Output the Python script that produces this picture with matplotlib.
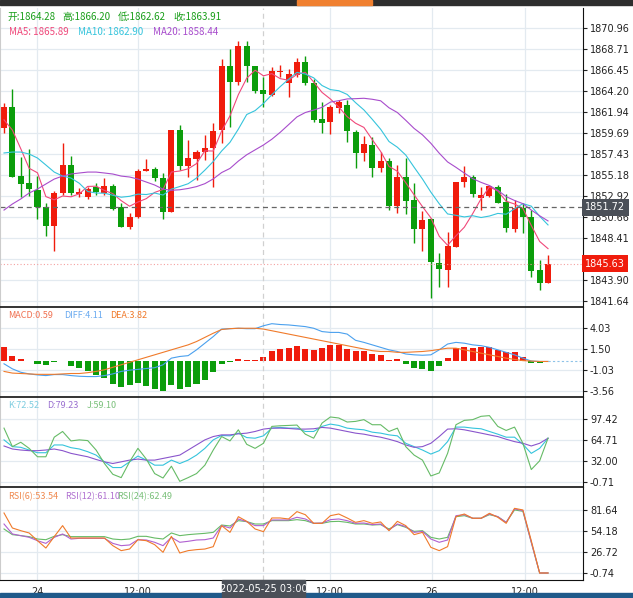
import matplotlib
matplotlib.use("Agg")
import matplotlib.pyplot as plt
import numpy as np
import pandas as pd

opens = [1860.22,1862.48,1855.06,1854.31,1853.56,1851.74,1849.70,1853.24,1856.25,1853.13,1852.81,1853.88,1853.24,1853.99,1851.74,1849.59,1850.66,1855.60,1855.82,1854.85,1851.20,1860.01,1856.14,1856.89,1857.64,1858.07,1860.01,1866.88,1865.16,1869.03,1866.88,1864.30,1863.76,1866.23,1865.05,1865.91,1867.31,1865.05,1861.19,1860.86,1862.37,1862.69,1859.79,1857.54,1858.39,1855.92,1856.68,1851.84,1854.96,1852.49,1849.37,1850.45,1845.72,1844.97,1847.44,1854.42,1854.96,1852.70,1852.92,1853.88,1852.27,1849.37,1851.63,1850.66,1844.97,1843.57]
highs = [1862.91,1864.41,1857.11,1857.96,1855.06,1852.17,1853.45,1858.61,1857.21,1853.78,1853.88,1854.31,1854.85,1854.21,1852.17,1851.09,1855.82,1856.89,1856.03,1855.39,1860.01,1860.54,1858.93,1857.86,1859.47,1860.76,1867.63,1868.70,1869.56,1869.56,1866.88,1865.70,1866.77,1866.99,1866.56,1867.74,1867.95,1865.48,1863.01,1862.69,1863.23,1863.23,1860.01,1859.36,1859.25,1857.64,1857.00,1856.25,1857.00,1854.31,1851.31,1850.55,1846.80,1849.05,1854.42,1856.14,1855.17,1853.88,1854.10,1854.10,1853.13,1852.49,1852.17,1851.41,1846.04,1846.58]
lows = [1859.68,1854.96,1852.81,1852.92,1850.45,1848.62,1847.01,1853.03,1853.03,1852.81,1852.60,1853.03,1853.03,1851.41,1849.59,1849.37,1850.55,1855.60,1854.53,1850.45,1851.20,1855.71,1854.96,1854.63,1856.78,1853.88,1858.61,1860.33,1864.84,1865.16,1863.98,1862.48,1863.66,1865.70,1863.55,1865.70,1864.84,1860.86,1859.68,1859.58,1861.83,1858.72,1855.92,1856.68,1854.96,1855.49,1851.41,1851.09,1850.98,1847.87,1847.01,1841.96,1843.14,1843.14,1847.44,1853.88,1852.81,1851.41,1852.81,1852.17,1849.05,1849.05,1848.94,1844.22,1842.82,1843.57]
closes = [1862.48,1854.96,1854.21,1853.67,1851.74,1849.70,1853.24,1856.25,1853.24,1853.35,1853.67,1853.35,1853.99,1851.52,1849.59,1850.66,1855.60,1855.82,1854.85,1851.20,1860.01,1856.14,1857.00,1857.64,1858.07,1859.90,1866.88,1865.16,1869.03,1866.88,1864.19,1863.87,1866.34,1866.34,1866.02,1867.31,1865.05,1861.08,1860.76,1862.48,1863.01,1859.90,1857.54,1858.50,1855.92,1856.68,1851.84,1854.96,1852.38,1849.37,1850.34,1845.83,1845.08,1847.55,1854.42,1854.96,1853.13,1853.03,1853.99,1852.17,1849.48,1851.63,1850.66,1844.86,1843.57,1845.62]

# moving averages: leading values (before window is full)
ma5_head = [1861.1, 1860.0, 1858.0, 1855.9]
ma10_head = [1857.54,1857.64,1857.64,1857.43,1857.00,1856.25,1855.49,1855.06,1854.85]
ma20_head = [1851.41,1852.06,1852.60,1853.24,1853.67,1854.21,1854.74,1855.06,1855.28,1855.39,1855.49,1855.49,1855.39,1855.28,1855.06,1854.96,1854.74,1854.42,1854.10]

macd_hist = [1.74,0.61,0.28,0.0,-0.36,-0.40,-0.05,0.03,-0.57,-0.81,-1.09,-1.62,-2.03,-2.71,-3.04,-2.84,-2.59,-3.00,-3.32,-3.52,-2.84,-3.32,-3.12,-2.71,-2.23,-1.30,-0.28,-0.12,0.28,0.16,0.16,0.57,1.22,1.46,1.66,1.82,1.54,1.38,1.66,1.98,2.03,1.50,1.30,1.26,0.89,0.77,0.16,0.28,-0.36,-0.81,-0.93,-1.17,-0.57,0.45,1.58,1.70,1.62,1.74,1.70,1.42,1.17,1.13,0.53,-0.24,-0.24,0.0]
macd_diff = [-0.28,-0.89,-1.30,-1.50,-1.62,-1.70,-1.58,-1.58,-1.70,-1.78,-1.82,-1.82,-1.70,-1.50,-1.20,-1.05,-0.95,-0.85,-0.75,-0.40,0.40,0.60,0.70,1.40,2.20,3.00,3.90,3.95,4.00,3.95,3.95,4.30,4.55,4.45,4.40,4.30,4.20,4.00,3.60,3.50,3.50,3.30,2.55,2.30,2.00,1.70,1.40,1.20,0.90,0.80,0.75,0.80,1.40,2.10,2.30,2.20,2.00,1.90,1.70,1.40,1.10,0.80,0.40,0.05,0.0,0.0]
macd_dea = [-1.20,-1.40,-1.45,-1.50,-1.55,-1.55,-1.55,-1.50,-1.45,-1.45,-1.35,-1.20,-1.00,-0.70,-0.40,-0.10,0.20,0.50,0.80,1.10,1.40,1.70,2.00,2.40,2.90,3.40,3.85,3.95,4.00,4.00,4.00,3.90,3.70,3.50,3.30,3.10,2.90,2.70,2.50,2.30,2.10,1.90,1.70,1.50,1.30,1.20,1.20,1.10,1.10,1.15,1.20,1.30,1.45,1.60,1.60,1.40,1.20,1.00,0.80,0.60,0.40,0.25,0.10,0.05,0.0,0.0]

kdj_k = [64.9,54.4,53.3,49.1,44.9,44.9,57.0,57.0,52.8,50.7,46.5,41.2,30.7,21.8,21.8,30.7,39.7,33.4,25.5,25.5,33.4,28.1,33.4,41.2,51.7,64.9,71.7,71.2,75.4,68.5,67.5,71.2,83.2,84.3,83.2,83.2,78.0,78.0,85.9,89.5,87.4,83.2,81.7,80.6,76.9,75.4,72.7,71.2,59.6,54.4,49.1,42.8,48.1,62.2,84.8,84.8,83.2,82.2,78.0,73.8,69.1,69.1,58.0,43.9,51.7,67.5]
kdj_d = [55.4,50.7,49.1,48.1,48.1,49.1,50.7,48.1,43.9,41.2,38.6,34.4,30.7,28.1,30.7,33.4,35.0,33.4,33.4,36.0,38.6,41.2,49.1,57.0,64.9,70.1,72.7,72.7,74.3,75.4,78.0,81.7,83.2,83.2,82.7,81.7,81.7,82.2,84.3,83.2,80.6,78.0,75.4,73.8,71.2,69.1,65.9,62.2,57.0,53.3,54.4,59.6,70.1,81.7,82.2,80.6,78.0,75.4,72.7,70.1,65.9,62.2,59.6,55.4,59.6,67.5]
kdj_j = [83.2,54.4,61.2,51.7,38.6,38.6,69.1,78.0,63.3,64.9,63.8,49.1,28.1,11.3,6.1,30.7,51.7,35.0,12.4,5.5,23.9,0.3,6.1,12.4,25.5,49.1,70.1,63.3,80.6,58.0,51.7,59.6,85.9,86.9,87.4,88.0,73.8,67.5,91.1,100.6,99.0,92.7,93.7,96.4,88.5,88.5,78.0,83.2,54.4,41.2,33.4,8.7,13.4,43.9,88.5,95.3,96.4,101.6,102.7,85.9,79.6,84.8,59.6,18.7,32.3,67.5]

rsi6 = [77.7,58.1,54.6,51.6,41.5,31.9,46.8,61.2,45.0,45.0,45.0,45.0,45.0,35.0,28.5,30.6,42.8,41.5,36.3,26.3,47.2,25.4,28.5,29.8,30.6,33.7,61.2,52.4,72.9,66.8,56.8,53.3,71.2,71.2,69.9,79.5,75.5,64.2,64.2,74.2,76.4,71.2,65.5,67.7,64.2,66.0,54.6,66.8,61.2,49.4,52.4,32.8,28.5,33.7,72.9,76.4,70.8,70.8,77.3,72.1,64.2,83.8,81.7,41.5,-0.75,-0.75]
rsi12 = [63.3,50.3,48.1,45.9,41.5,38.0,45.9,50.3,43.7,44.6,44.6,44.6,44.6,38.0,35.0,35.9,42.8,42.4,39.4,35.0,45.9,39.4,40.7,42.4,42.8,45.0,61.2,58.1,69.9,66.4,61.2,61.2,68.6,68.6,68.6,72.1,69.9,64.2,64.6,69.0,69.9,67.7,64.2,64.6,62.5,63.3,55.5,63.3,59.9,52.4,53.7,43.7,39.4,42.4,74.2,75.5,70.8,70.8,76.4,72.9,65.5,83.0,80.8,39.4,-0.75,-0.75]
rsi24 = [56.8,49.4,48.1,46.8,43.7,42.8,47.2,49.4,46.8,46.8,46.8,46.8,46.8,43.7,42.8,43.7,47.2,47.2,45.0,43.7,51.6,48.1,49.4,50.3,51.1,52.4,62.0,60.7,67.7,66.4,63.3,63.3,67.7,67.7,67.7,69.0,67.7,64.2,64.2,66.4,66.8,65.5,63.3,63.3,62.0,62.5,56.8,62.5,59.0,53.7,54.6,45.9,43.7,45.9,72.9,74.2,70.8,70.8,75.5,72.9,65.5,81.7,79.9,39.4,-0.75,-0.75]

price_ticks = [1870.96,1868.71,1866.45,1864.20,1861.94,1859.69,1857.43,1855.18,1852.92,1850.66,1848.41,1846.15,1843.90,1841.64]
macd_ticks = [4.03,1.50,-1.03,-3.56]
kdj_ticks = [97.42,64.71,32.00,-0.71]
rsi_ticks = [81.64,54.18,26.72,-0.74]
xtick_pos = [3.95,16.0,38.9,51.1,62.2]
xtick_labels = ["24","12:00","12:00","26","12:00"]
cross_idx = 30.95
cross_label = "2022-05-25 03:00"
cross_price = 1851.72
last_price = 1845.63

RED = "#f01c0c"; GREEN = "#0b9d0b"
c = pd.Series(closes)
def ma(n, head):
    m = c.rolling(n).mean().to_numpy()
    m[:len(head)] = head
    return m
ma5, ma10, ma20 = ma(5, ma5_head), ma(10, ma10_head), ma(20, ma20_head)

W, H = 633, 598
fig = plt.figure(figsize=(W/100, H/100), dpi=100)
def ax_px(y0, y1):
    return fig.add_axes([0, 1 - y1/H, 583/W, (y1 - y0)/H])
xs = np.arange(len(closes))
xlim = (-0.48, 69.18)
GRID = "#e3eaf0"

def style(ax, ticks, ylim):
    ax.set_xlim(*xlim); ax.set_ylim(*ylim)
    ax.set_yticks(ticks); ax.set_yticklabels([f"{t:.2f}" for t in ticks])
    ax.yaxis.tick_right()
    ax.tick_params(axis="y", labelsize=7, length=3, pad=2, colors="#222")
    ax.set_xticks(xtick_pos); ax.set_xticklabels([])
    ax.tick_params(axis="x", length=0)
    ax.grid(True, color=GRID, lw=0.9)
    ax.set_axisbelow(True)
    ax.spines["bottom"].set_visible(False)
    ax.spines["left"].set_color("#cccccc")
    ax.spines["top"].set_color("#111"); ax.spines["right"].set_color("#111")
    ax.spines["top"].set_linewidth(1.2)
    ax.axvline(cross_idx, color="#d0d0d0", ls=(0, (4, 3)), lw=0.9)

def ypx(ax, v):
    return ax.transData.transform((0, v))[1] / H

# price
ax = ax_px(8, 307)
style(ax, price_ticks, (1841.0, 1873.11))
ax.spines["top"].set_visible(False)
for i in xs:
    o, cl = opens[i], closes[i]
    col = RED if cl >= o else GREEN
    ax.vlines(i, lows[i], highs[i], color=col, lw=1)
    ax.bar(i, max(abs(cl - o), 0.12), bottom=min(o, cl), width=0.72, color=col, lw=0)
ax.plot(xs, ma5, color="#f0487a", lw=0.8)
ax.plot(xs, ma10, color="#35c4dc", lw=0.8)
ax.plot(xs, ma20, color="#a84ccc", lw=0.8)
ax.axhline(cross_price, color="#666", ls=(0, (4, 3)), lw=0.9)
ax.axhline(last_price, color="#f4a0a0", ls=(0, (1, 2)), lw=0.8)

# MACD
ax2 = ax_px(307, 397)
style(ax2, macd_ticks, (-4.28, 6.56))
ax2.bar(xs, macd_hist, width=0.72, color=[RED if v >= 0 else GREEN for v in macd_hist], lw=0)
ax2.plot(xs, macd_diff, color="#4aa0ee", lw=0.8)
ax2.plot(xs, macd_dea, color="#f07a2a", lw=0.8)
ax2.plot([65, 69.18], [0, 0], color="#8ec3e8", ls=(0, (2, 2)), lw=0.8)

# KDJ
ax3 = ax_px(397, 487)
style(ax3, kdj_ticks, (-8.5, 131.7))
ax3.plot(xs, kdj_k, color="#35c4dc", lw=0.8)
ax3.plot(xs, kdj_d, color="#8a55cc", lw=0.8)
ax3.plot(xs, kdj_j, color="#66bb66", lw=0.8)

# RSI
ax4 = ax_px(487, 580)
style(ax4, rsi_ticks, (-9.9, 111.7))
ax4.plot(xs, rsi24, color="#66bb66", lw=0.8)
ax4.plot(xs, rsi12, color="#b060d0", lw=0.8)
ax4.plot(xs, rsi6, color="#f07a2a", lw=0.8)
ax4.spines["bottom"].set_visible(True); ax4.spines["bottom"].set_color("#111")
ax4.set_xticklabels(xtick_labels)
ax4.tick_params(axis="x", labelsize=7, pad=5, colors="#222")

fig.canvas.draw()
fig.text(585/W, ypx(ax, cross_price), f"{cross_price:.2f}", va="center", ha="left", fontsize=7, color="white",
         bbox=dict(boxstyle="square,pad=0.35", fc="#4a4f57", ec="none"), zorder=10)
fig.text(585/W, ypx(ax, last_price), f"{last_price:.2f}", va="center", ha="left", fontsize=7, color="white",
         bbox=dict(boxstyle="square,pad=0.35", fc="#f01c0c", ec="none"), zorder=10)

FONT = ["Noto Sans CJK SC", "DejaVu Sans"]
def row(y, parts, fs=7):
    for x, s, col in parts:
        fig.text(x/W, 1 - y/H, s, fontsize=fs, color=col, va="center", family=FONT)
row(17, [(7, "开:1864.28", "#189e18"), (62, "高:1866.20", "#189e18"), (118, "低:1862.62", "#189e18"), (173, "收:1863.91", "#189e18")])
row(32, [(9, "MA5: 1865.89", "#f0487a"), (78, "MA10: 1862.90", "#35c4dc"), (153, "MA20: 1858.44", "#a84ccc")])
row(316, [(8, "MACD:0.59", "#f07050"), (64, "DIFF:4.11", "#6aaaf0"), (110, "DEA:3.82", "#f07a2a")], 6.5)
row(406, [(8, "K:72.52", "#7ecde0"), (47, "D:79.23", "#9a70d0"), (87, "J:59.10", "#7ac07a")], 6.5)
row(497, [(8, "RSI(6):53.54", "#f08a50"), (65, "RSI(12):61.10", "#b070d0"), (117, "RSI(24):62.49", "#7ac07a")], 6.5)

fig.add_artist(plt.Rectangle((0, 1 - 5/H), 1, 5/H, transform=fig.transFigure, color="#2e2e2e"))
fig.add_artist(plt.Rectangle((297/W, 1 - 5/H), 75/W, 5/H, transform=fig.transFigure, color="#f08030"))
fig.add_artist(plt.Rectangle((0, 0), 1, 5/H, transform=fig.transFigure, color="#1f5a8a"))
fig.add_artist(plt.Rectangle((222/W, 0), 83/W, 18/H, transform=fig.transFigure, color="#4a4f57"))
fig.text(263.5/W, 9/H, cross_label, fontsize=7, color="white", ha="center", va="center")
fig.savefig("out.png", dpi=100)
